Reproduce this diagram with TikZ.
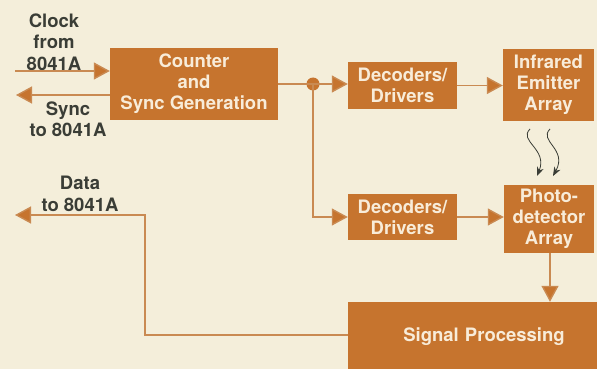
\documentclass[tikz,border=0pt]{standalone}
\usepackage{fontspec}
\setmainfont{TeX Gyre Heros}
\usetikzlibrary{arrows.meta,calc}
\definecolor{paper}{HTML}{F4EEDA}
\definecolor{blockfill}{HTML}{C6742E}
\definecolor{wire}{HTML}{C98A52}
\definecolor{inktext}{HTML}{3A3D36}
\definecolor{blocktext}{HTML}{F8ECD9}
\begin{document}
\begin{tikzpicture}[x=1pt,y=-1pt,
  block/.style={fill=blockfill,text=blocktext,font=\fontsize{18.5}{21}\selectfont\bfseries,align=center,inner sep=0pt},
  wirearrow/.style={draw=wire,line width=1.4pt,-{Triangle[length=16pt,width=17pt,fill=blockfill]}},
  plainwire/.style={draw=wire,line width=1.4pt},
  lbl/.style={text=inktext,font=\fontsize{18.5}{21.5}\selectfont\bfseries,align=center},
  ray/.style={draw=inktext,line width=0.8pt,-{Stealth[length=9pt,width=7pt]}}]
\useasboundingbox (0,0) rectangle (597,369);
\fill[paper] (0,0) rectangle (597,369);
\begin{scope}
\clip (0,0) rectangle (597,369);
\node[block,minimum width=168pt,minimum height=72pt] (counter) at (194,84) {Counter\\and\\Sync Generation};
\node[block,minimum width=109pt,minimum height=47pt] (dec1) at (402.5,85.5) {Decoders/\\Drivers};
\node[block,minimum width=91pt,minimum height=72pt] (infra) at (548.5,85) {Infrared\\Emitter\\Array};
\node[block,minimum width=109pt,minimum height=46pt] (dec2) at (402.5,217) {Decoders/\\Drivers};
\node[block,minimum width=90pt,minimum height=68pt] (photo) at (549,219) {Photo-\\detector\\Array};
\node[block,minimum width=252pt,minimum height=70pt,text width=252pt] (sig) at (474,337) {\hspace*{20pt}Signal Processing};
\end{scope}
\fill[blockfill] (313,84) circle (6.5pt);
\coordinate (split) at (313,84);
\coordinate (clkin) at (15,71);
\coordinate (syncout) at (16,95);
\coordinate (dataout) at (15,215);
\coordinate (databend) at (145,335);
\node[lbl] (clocklbl) at (54,42) {Clock\\from\\8041A};
\node[lbl] (synclbl) at (68,119) {Sync\\to 8041A};
\node[lbl] (datalbl) at (80,194) {Data\\to 8041A};
\draw[wirearrow] (clkin) -- (counter.west |- clkin);
\draw[wirearrow] (counter.west |- syncout) -- (syncout);
\draw[plainwire] (counter.east |- split) -- (split);
\draw[wirearrow] (split) -- (dec1.west |- split);
\draw[wirearrow] (dec1.east) -- (infra.west |- dec1.east);
\draw[wirearrow] (split) |- (dec2.west);
\draw[wirearrow] (dec2.east) -- (photo.west |- dec2.east);
\draw[wirearrow] (photo.south -| 550,0) -- (sig.north -| 550,0);
\draw[wirearrow] (sig.west |- databend) -- (databend) |- (dataout);
\draw[ray] (530,129) .. controls (518,141) and (548,149) .. (537,176);
\draw[ray] (550,129) .. controls (538,141) and (568,149) .. (553,176);
\end{tikzpicture}
\end{document}
